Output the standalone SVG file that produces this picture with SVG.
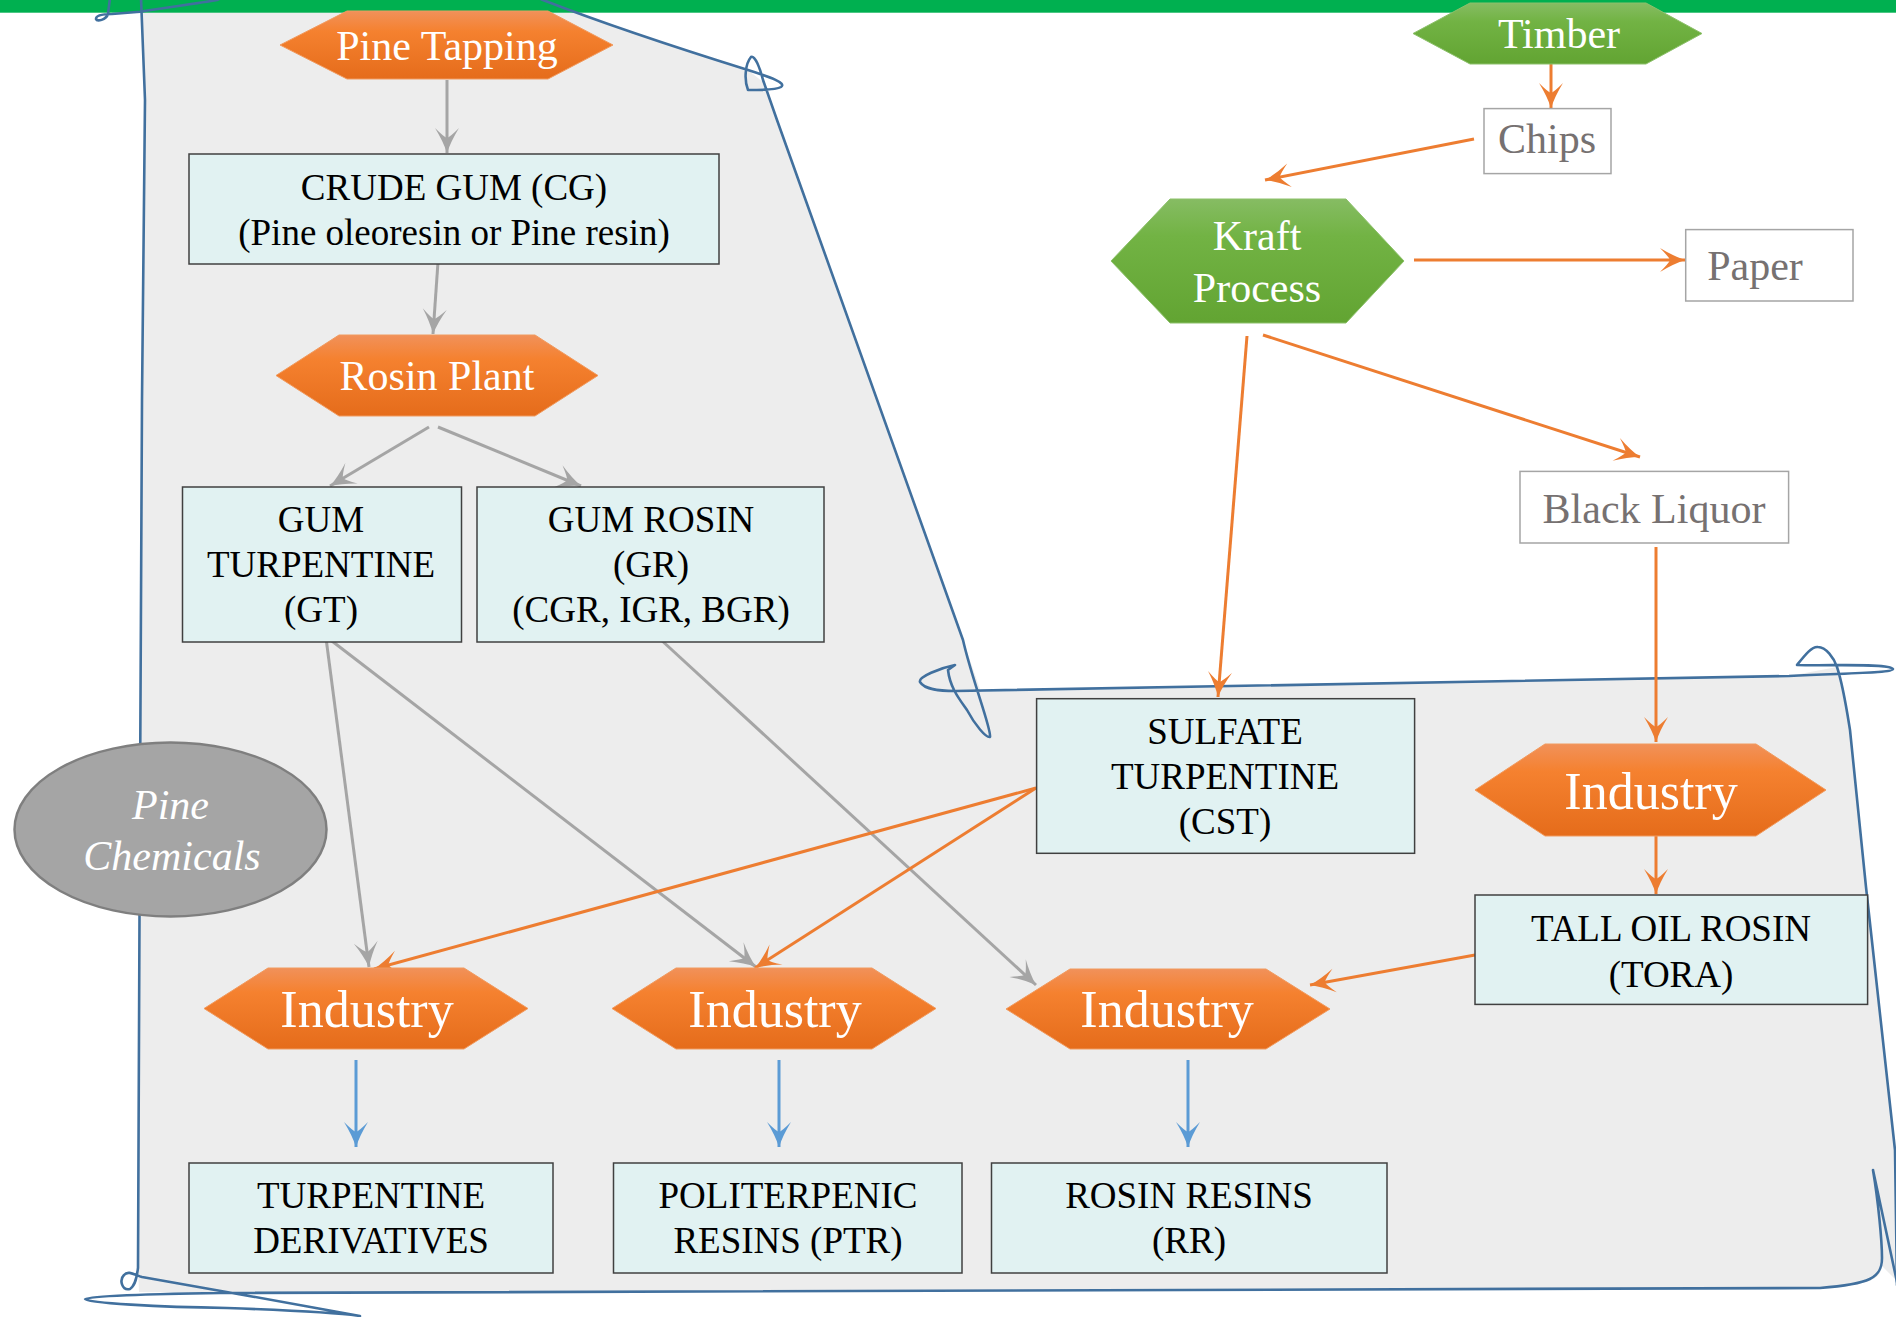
<svg xmlns="http://www.w3.org/2000/svg" width="1896" height="1317" viewBox="0 0 1896 1317">
<style>
.box{fill:#E1F2F2;stroke:#404040;stroke-width:1.5}
.wbox{fill:#FFFFFF;stroke:#A5A5A5;stroke-width:1.5}
.bt{font-family:"Liberation Serif","Times New Roman",serif;font-size:37px;fill:#000;text-anchor:middle}
.gt{font-family:"Liberation Serif","Times New Roman",serif;font-size:42px;fill:#767171;text-anchor:middle}
.ht{font-family:"Liberation Serif","Times New Roman",serif;font-size:42px;fill:#FFFFFF;text-anchor:middle}
.it{font-family:"Liberation Serif","Times New Roman",serif;font-size:52px;fill:#FFFFFF;text-anchor:middle}
.oh{fill:url(#og);stroke:#F19A5E;stroke-width:1}
.gh{fill:url(#gg);stroke:#8CC06A;stroke-width:1}
.cg{fill:none;stroke:#A5A5A5;stroke-width:3;marker-end:url(#ag)}
.co{fill:none;stroke:#ED7D31;stroke-width:3;marker-end:url(#ao)}
.cb{fill:none;stroke:#5B9BD5;stroke-width:3;marker-end:url(#ab)}
.ol{fill:none;stroke:#41709E;stroke-width:2.6;stroke-linejoin:round;stroke-linecap:round}
</style>
<defs>
<linearGradient id="og" x1="0" y1="0" x2="0" y2="1">
<stop offset="0" stop-color="#F1915A"/>
<stop offset="0.3" stop-color="#F5812F"/>
<stop offset="1" stop-color="#E56C1B"/>
</linearGradient>
<linearGradient id="gg" x1="0" y1="0" x2="0" y2="1">
<stop offset="0" stop-color="#86BC63"/>
<stop offset="0.3" stop-color="#72B344"/>
<stop offset="1" stop-color="#62A432"/>
</linearGradient>
<marker id="ag" markerUnits="userSpaceOnUse" viewBox="-27 -14 29 28" refX="0" refY="0" markerWidth="29" markerHeight="28" orient="auto">
<path d="M0,0 Q-12,-4 -25,-12 Q-16,-3 -15,0 Q-16,3 -25,12 Q-12,4 0,0 Z" fill="#A5A5A5"/>
</marker>
<marker id="ao" markerUnits="userSpaceOnUse" viewBox="-27 -14 29 28" refX="0" refY="0" markerWidth="29" markerHeight="28" orient="auto">
<path d="M0,0 Q-12,-4 -25,-12 Q-16,-3 -15,0 Q-16,3 -25,12 Q-12,4 0,0 Z" fill="#ED7D31"/>
</marker>
<marker id="ab" markerUnits="userSpaceOnUse" viewBox="-27 -14 29 28" refX="0" refY="0" markerWidth="29" markerHeight="28" orient="auto">
<path d="M0,0 Q-12,-4 -25,-12 Q-16,-3 -15,0 Q-16,3 -25,12 Q-12,4 0,0 Z" fill="#5B9BD5"/>
</marker>
</defs>
<rect x="0" y="0" width="1896" height="1317" fill="#FFFFFF"/>
<g id="background">
<path d="M141,0 L543,0 C620,30 700,55 748,70 L763,82 L777,120 L963,640 L981,692 L1789,676 L1837,667 L1850,730 L1866,887 L1895,1150 L1896,1280 L1882,1266 C1880,1280 1870,1285 1820,1288 L220,1293 L139,1292 L138,1268 L140,800 L142,400 L145,100 Z" fill="#EDEDED"/>
<rect x="0" y="0" width="1896" height="12.7" fill="#00B050"/>
<path class="ol" d="M110,-2 L108,14 C106,20 97,22 96,19 C96,15 104,14 112,14 L140,11.7 C170,7 200,3 217,0 L260,-20"/>
<path class="ol" d="M520,-10 L543,0 C620,30 700,55 748,70 C770,77 787,83 781,87 C776,90 760,90 748,90 C744,80 745,64 751,57 C755,55 760,68 763,80 L777,120 L963,640 C972,680 992,730 990,737 C986,738 975,725 967,710 C960,700 950,688 948,670 L955,665 C940,668 918,677 920,682 C925,690 940,691 955,691 L1789,676 C1850,673 1893,673 1893,669 C1890,663 1830,666 1797,665 C1805,655 1812,646 1818,647 C1826,647 1834,658 1837,667 C1843,685 1846,705 1850,730 L1866,887 L1895,1150 L1897,1285"/>
<path class="ol" d="M1897,1282 L1873,1170 C1878,1200 1882,1240 1882,1258 C1882,1278 1870,1284 1820,1288 L220,1293 C150,1294 85,1296 85,1299 C85,1303 160,1307 227,1308 C280,1310 340,1313 360,1316 C300,1305 200,1287 142,1277 C135,1275 128,1270 124,1275 C119,1280 122,1291 130,1289 C136,1285 137,1275 138,1268 L140,800 L142,400 L145,100 L141,-2"/>
</g>
<g id="connectors">
<path class="cg" d="M447,80 L447,153"/>
<path class="cg" d="M438,262 L433,334"/>
<path class="cg" d="M429,427 L330,486"/>
<path class="cg" d="M438,427 L581,486"/>
<path class="cg" d="M326,638 L369,967"/>
<path class="cg" d="M328,638 L756,967"/>
<path class="cg" d="M659,638 L1036,985"/>
<path class="co" d="M1551,64 L1551,108"/>
<path class="co" d="M1474,139 L1265,180"/>
<path class="co" d="M1414,260 L1685,260"/>
<path class="co" d="M1263,335 L1640,457"/>
<path class="co" d="M1247,336 L1218,697"/>
<path class="co" d="M1656,547 L1656,742"/>
<path class="co" d="M1656,836 L1656,894"/>
<path class="co" d="M1475,955 L1310,985"/>
<path class="co" d="M1036,788 L374,969"/>
<path class="co" d="M1036,788 L755,968"/>
<path class="cb" d="M356,1060 L356,1147"/>
<path class="cb" d="M779,1060 L779,1147"/>
<path class="cb" d="M1188,1060 L1188,1147"/>
</g>
<g id="pine-tapping">
<polygon class="oh" points="280,45 347,11 548,11 613,45 548,79 347,79"/>
<text class="ht" x="447" y="60">Pine Tapping</text>
</g>
<g id="crude-gum">
<rect class="box" x="189" y="154" width="530" height="110"/>
<text class="bt" x="454" y="200">CRUDE GUM (CG)</text>
<text class="bt" x="454" y="245">(Pine oleoresin or Pine resin)</text>
</g>
<g id="rosin-plant">
<polygon class="oh" points="276,375.5 339,335 535,335 598,375.5 535,416 339,416"/>
<text class="ht" x="437" y="390">Rosin Plant</text>
</g>
<g id="gum-turpentine">
<rect class="box" x="182.5" y="487" width="279" height="155"/>
<text class="bt" x="321" y="532">GUM</text>
<text class="bt" x="321" y="577">TURPENTINE</text>
<text class="bt" x="321" y="622">(GT)</text>
</g>
<g id="gum-rosin">
<rect class="box" x="477" y="487" width="347" height="155"/>
<text class="bt" x="651" y="532">GUM ROSIN</text>
<text class="bt" x="651" y="577">(GR)</text>
<text class="bt" x="651" y="622">(CGR, IGR, BGR)</text>
</g>
<g id="pine-chemicals">
<ellipse cx="170.5" cy="829.5" rx="156" ry="87" fill="#A5A5A5" stroke="#7F7F7F" stroke-width="2.5"/>
<text class="ht" x="170.5" y="819" font-style="italic">Pine</text>
<text class="ht" x="172" y="870" font-style="italic">Chemicals</text>
</g>
<g id="timber">
<polygon class="gh" points="1413,33.5 1470,3 1646,3 1702,33.5 1646,64 1470,64"/>
<text class="ht" x="1559" y="48">Timber</text>
</g>
<g id="chips">
<rect class="wbox" x="1484" y="108.6" width="127" height="65"/>
<text class="gt" x="1547" y="153" font-size="36">Chips</text>
</g>
<g id="kraft-process">
<polygon class="gh" points="1111,261 1170,199 1346,199 1404,261 1346,323 1170,323"/>
<text class="ht" x="1257" y="250">Kraft</text>
<text class="ht" x="1257" y="302">Process</text>
</g>
<g id="paper">
<rect class="wbox" x="1685.7" y="229.6" width="167.3" height="71.4"/>
<text class="gt" x="1755" y="280">Paper</text>
</g>
<g id="black-liquor">
<rect class="wbox" x="1520" y="471.4" width="268.6" height="71.6"/>
<text class="gt" x="1654" y="523">Black Liquor</text>
</g>
<g id="sulfate-turpentine">
<rect class="box" x="1036.6" y="698.7" width="378" height="154.6"/>
<text class="bt" x="1225" y="744">SULFATE</text>
<text class="bt" x="1225" y="789">TURPENTINE</text>
<text class="bt" x="1225" y="834">(CST)</text>
</g>
<g id="industry-r">
<polygon class="oh" points="1475,790 1545,744 1756,744 1826,790 1756,836 1545,836"/>
<text class="it" x="1651" y="809">Industry</text>
</g>
<g id="tall-oil-rosin">
<rect class="box" x="1475" y="895" width="392.6" height="109.4"/>
<text class="bt" x="1671" y="941">TALL OIL ROSIN</text>
<text class="bt" x="1671" y="987">(TORA)</text>
</g>
<g id="industry-1">
<polygon class="oh" points="204,1008.5 268,968 464,968 528,1008.5 464,1049 268,1049"/>
<text class="it" x="367" y="1027">Industry</text>
</g>
<g id="industry-2">
<polygon class="oh" points="612,1008.5 676,968 872,968 936,1008.5 872,1049 676,1049"/>
<text class="it" x="775" y="1027">Industry</text>
</g>
<g id="industry-3">
<polygon class="oh" points="1006,1009 1070,969 1266,969 1330,1009 1266,1049 1070,1049"/>
<text class="it" x="1167" y="1027">Industry</text>
</g>
<g id="turpentine-derivatives">
<rect class="box" x="189" y="1163" width="364" height="110"/>
<text class="bt" x="371" y="1208">TURPENTINE</text>
<text class="bt" x="371" y="1253">DERIVATIVES</text>
</g>
<g id="politerpenic-resins">
<rect class="box" x="613.5" y="1163" width="348.5" height="110"/>
<text class="bt" x="788" y="1208">POLITERPENIC</text>
<text class="bt" x="788" y="1253">RESINS (PTR)</text>
</g>
<g id="rosin-resins">
<rect class="box" x="991.5" y="1163" width="395.5" height="110"/>
<text class="bt" x="1189" y="1208">ROSIN RESINS</text>
<text class="bt" x="1189" y="1253">(RR)</text>
</g>
</svg>
